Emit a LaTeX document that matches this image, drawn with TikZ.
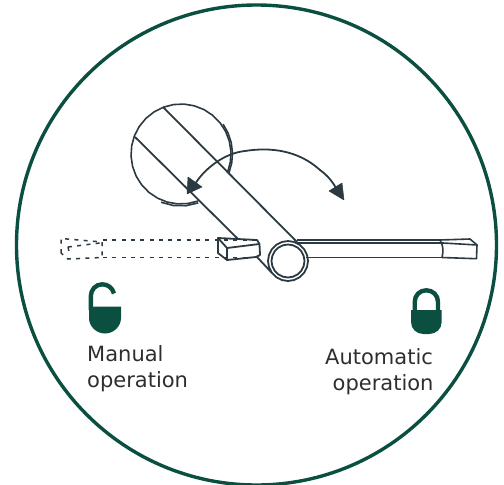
\documentclass[tikz,border=0pt]{standalone}
\usepackage{fontspec}
\setmainfont{DejaVu Sans}
\definecolor{ringgreen}{HTML}{0B4F40}
\definecolor{inkdark}{HTML}{2B3A42}
\definecolor{labelgrey}{HTML}{2E2E2E}
\tikzset{
  ink/.style={draw=inkdark,line width=1.8pt,line join=round},
  thinink/.style={draw=inkdark,line width=1.6pt,line join=round},
  dashink/.style={draw=inkdark,line width=1.5pt,dash pattern=on 4pt off 5.3pt},
  ring/.style={draw=ringgreen,line width=3.4pt},
  lockbody/.style={fill=ringgreen,draw=none},
  shackle/.style={draw=ringgreen,line width=4.4pt},
  headfill/.style={fill=inkdark,draw=inkdark,line width=.5pt,line join=round},
  oplabel/.style={font=\fontsize{21}{24}\selectfont,text=labelgrey,inner sep=0pt,anchor=base west}
}
\begin{document}
\begin{tikzpicture}[x=1pt,y=-1pt]
\useasboundingbox (0,0) rectangle (504,485);
% outer ring
\draw[ring] (256.5,245) circle[radius=240];
% disc
\draw[thinink] plot[samples=27,domain=70:381] ({181+50*cos(\x)},{154+50*sin(\x)});
\draw[thinink] plot[samples=6,domain=-35:21] ({180.5+52*cos(\x)},{154+52*sin(\x)});
\draw[thinink] plot[samples=4,domain=70:112] ({180.5+52*cos(\x)},{154+52*sin(\x)});
% handle strip
\draw[ink] (163,107) -- (297,242);
\draw[ink] (135,137) -- (238,239);
\draw[ink] (257,257) -- (272,273);
% ghost lever
\draw[dashink] (103,240) -- (257,240);
\draw[dashink] (103,257.5) -- (257,257.5);
\draw[dashink] (61,253) -- (61,238.5) -- (102,242) -- (102,257.5) -- (68,259) -- (61,253);
\draw[dashink] (68,247) -- (100,243);
\draw[dashink] (68,247) -- (70,256);
% block
\draw[ink] (218,238) -- (257,240) -- (259.5,244) -- (260,255) -- (256,257) -- (227,260) -- (218,253) -- cycle;
\draw[ink] (218,238) -- (227,248) -- (227,260);
\draw[ink] (227,248) -- (259.5,244);
% hub
\draw[ink,fill=white] plot[samples=21,domain=0:360] ({288+20*cos(\x)},{261+20*sin(\x)});
\draw[ink] plot[samples=21,domain=0:360] ({288+16.5*cos(\x)},{261+16.5*sin(\x)});
% lever
\draw[ink] (297,240) -- (440,240);
\draw[ink] (297,243) -- (443,243);
\draw[ink] (306,257.5) -- (442,257.5);
\draw[thinink] (440,240) -- (470,239) -- (477,245) -- (476.5,258.7) -- (442,257.5);
\draw[thinink] (443,243) -- (477,245);
\draw[thinink] (440,240) .. controls (443.5,246) and (443.5,251) .. (442,257.5);
% swing arrow
\draw[ink] (195,184) .. controls (205,168) and (225,153) .. (245,151) .. controls (270,147) and (298,150) .. (320,170) .. controls (328,176) and (332,181) .. (336,188);
\path[headfill] (187,194) -- (188,177) -- (202,187) -- cycle;
\path[headfill] (344,200) -- (329,191) -- (342,183) -- cycle;
% open padlock
\draw[shackle] (90.8,310) -- (90.8,296.3) .. controls (90.8,289.7) and (95.7,284.3) .. (102.3,284.3) .. controls (108,284.3) and (112.5,288) .. (114,293.5);
\path[lockbody] (89,306.5) -- (121,306.5) -- (121,318) .. controls (121,327) and (113,333.5) .. (105,333.5) .. controls (97,333.5) and (89,327) .. (89,318) -- cycle;
% closed padlock
\draw[shackle] (414.7,312) -- (414.7,302) .. controls (414.7,295) and (420,290.3) .. (426.3,290.3) .. controls (432.6,290.3) and (438,295) .. (438,302) -- (438,312);
\path[lockbody] (411,310) -- (441.7,310) -- (441.7,322) .. controls (441.7,329) and (436,334) .. (429,334) -- (423.5,334) .. controls (416.5,334) and (411,329) .. (411,322) -- cycle;
% labels
\node[oplabel] (manualA) at (87,361.5) {Manual};
\node[oplabel] (manualB) at (87,387) {operation};
\node[oplabel] (autoA) at (325,364) {Automatic};
\node[oplabel] (autoB) at (332.5,390) {operation};
\end{tikzpicture}
\end{document}
